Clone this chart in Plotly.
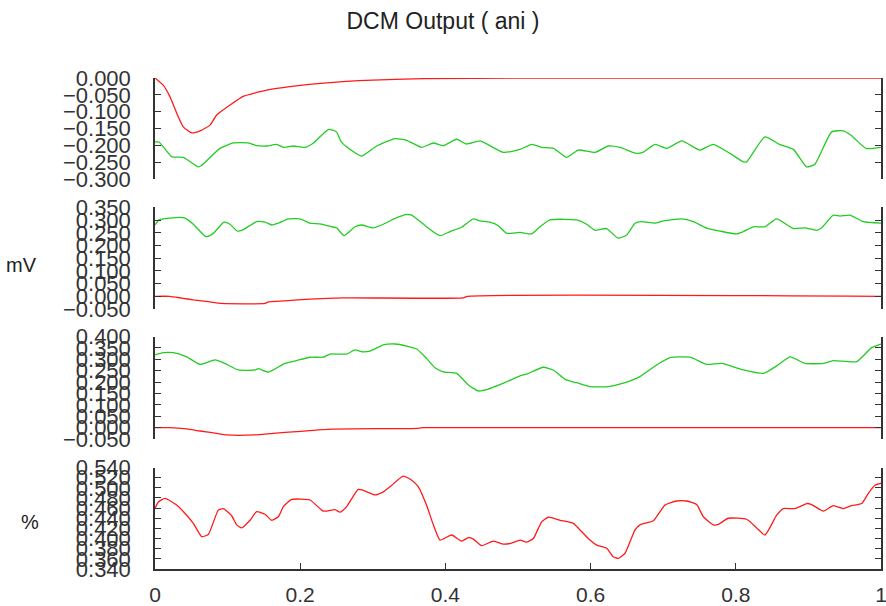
import plotly.graph_objects as go

# ---------------- data ----------------
# panel 1 (top)
p1_red_x = [0, 0.0115, 0.0207, 0.030, 0.039, 0.0505, 0.062, 0.0758, 0.085, 0.103, 0.122,
            0.14, 0.154, 0.2, 0.246, 0.29, 0.37, 0.5, 1.0]
p1_red_y = [0, -0.022, -0.056, -0.105, -0.145, -0.163, -0.157, -0.140, -0.110, -0.081, -0.054,
            -0.043, -0.036, -0.022, -0.013, -0.007, -0.002, 0, 0]

p1_grn_x = [0.0, 0.0055, 0.023, 0.039, 0.0597, 0.064, 0.0895, 0.108, 0.1286, 0.14, 0.154,
            0.1675, 0.177, 0.1905, 0.2066, 0.218, 0.2387, 0.25, 0.2566, 0.2686, 0.2846,
            0.3052, 0.3306, 0.3467, 0.3673, 0.3834, 0.397, 0.4156, 0.429, 0.4477, 0.48,
            0.5028, 0.519, 0.5326, 0.549, 0.567, 0.583, 0.606, 0.6244, 0.6405, 0.663,
            0.672, 0.6887, 0.705, 0.7255, 0.7507, 0.769, 0.792, 0.8104, 0.815, 0.84,
            0.861, 0.8793, 0.8976, 0.909, 0.932, 0.948, 0.9587, 0.9793, 1.0]
p1_grn_y = [-0.190, -0.190, -0.234, -0.236, -0.264, -0.260, -0.209, -0.193, -0.193, -0.201,
            -0.202, -0.197, -0.206, -0.202, -0.206, -0.194, -0.153, -0.160, -0.190, -0.212,
            -0.232, -0.202, -0.180, -0.185, -0.206, -0.193, -0.201, -0.182, -0.196, -0.187,
            -0.221, -0.212, -0.197, -0.206, -0.209, -0.236, -0.214, -0.221, -0.202, -0.206,
            -0.224, -0.221, -0.197, -0.209, -0.187, -0.214, -0.197, -0.224, -0.249, -0.249,
            -0.175, -0.198, -0.212, -0.264, -0.256, -0.160, -0.157, -0.170, -0.209, -0.206]

# panel 2
p2_red_x = [0, 0.02, 0.0367, 0.0528, 0.0758, 0.0918, 0.1515, 0.156, 0.179, 0.2135, 0.2594,
            0.4247, 0.43, 1.0]
p2_red_y = [0, 0, -0.007, -0.014, -0.022, -0.028, -0.028, -0.022, -0.018, -0.011, -0.006,
            -0.006, 0, 0]

p2_grn_x = [0.0, 0.0055, 0.0207, 0.0344, 0.0413, 0.0528, 0.0702, 0.0803, 0.095, 0.1033,
            0.1134, 0.1217, 0.14, 0.1515, 0.1607, 0.1699, 0.1837, 0.1997, 0.2135, 0.2273,
            0.2433, 0.2502, 0.2603, 0.2755, 0.2846, 0.3007, 0.3145, 0.3329, 0.3467, 0.3536,
            0.374, 0.3926, 0.4063, 0.4224, 0.4384, 0.4476, 0.4614, 0.4729, 0.4844, 0.5028,
            0.519, 0.5303, 0.544, 0.5808, 0.5946, 0.606, 0.622, 0.638, 0.6498, 0.6612,
            0.6704, 0.6887, 0.7002, 0.7255, 0.7415, 0.7599, 0.7782, 0.801, 0.8104, 0.8242,
            0.8402, 0.8563, 0.8793, 0.8953, 0.9114, 0.9183, 0.9343, 0.9435, 0.9573, 0.9756,
            1.0]
p2_grn_y = [0.281, 0.301, 0.308, 0.311, 0.308, 0.284, 0.235, 0.248, 0.292, 0.284,
            0.257, 0.263, 0.294, 0.292, 0.281, 0.288, 0.305, 0.305, 0.288, 0.285,
            0.274, 0.270, 0.239, 0.274, 0.281, 0.270, 0.284, 0.310, 0.323, 0.320,
            0.274, 0.239, 0.255, 0.272, 0.305, 0.297, 0.292, 0.278, 0.248, 0.252,
            0.246, 0.274, 0.301, 0.301, 0.284, 0.260, 0.267, 0.229, 0.242, 0.288,
            0.294, 0.288, 0.297, 0.305, 0.294, 0.269, 0.257, 0.246, 0.255, 0.274,
            0.274, 0.305, 0.267, 0.270, 0.260, 0.270, 0.320, 0.316, 0.320, 0.294,
            0.288]

# panel 3
p3_red_x = [0, 0.02, 0.0436, 0.062, 0.085, 0.0987, 0.1377, 0.163, 0.195, 0.2433, 0.3627,
            0.37, 1.0]
p3_red_y = [0, 0, -0.006, -0.015, -0.025, -0.032, -0.032, -0.025, -0.018, -0.007, -0.003,
            0, 0]

p3_grn_x = [0.0, 0.0115, 0.0253, 0.0436, 0.062, 0.0826, 0.0987, 0.1148, 0.1377, 0.1423,
            0.1561, 0.179, 0.195, 0.2135, 0.2318, 0.241, 0.264, 0.2755, 0.2846, 0.2961,
            0.3145, 0.3306, 0.3467, 0.3605, 0.374, 0.3857, 0.397, 0.4156, 0.4316, 0.4453,
            0.4568, 0.48, 0.5028, 0.512, 0.5349, 0.5486, 0.5647, 0.5808, 0.599, 0.6244,
            0.645, 0.668, 0.691, 0.7094, 0.737, 0.7599, 0.7805, 0.8104, 0.8379, 0.8563,
            0.8747, 0.8953, 0.9206, 0.9343, 0.9665, 0.9871, 1.0]
p3_grn_y = [0.319, 0.329, 0.329, 0.311, 0.278, 0.297, 0.278, 0.253, 0.253, 0.259,
            0.244, 0.282, 0.294, 0.309, 0.309, 0.323, 0.323, 0.341, 0.333, 0.336,
            0.363, 0.367, 0.358, 0.345, 0.304, 0.263, 0.245, 0.238, 0.187, 0.161,
            0.167, 0.195, 0.227, 0.235, 0.265, 0.253, 0.212, 0.197, 0.180, 0.180,
            0.195, 0.224, 0.275, 0.307, 0.309, 0.278, 0.282, 0.253, 0.238, 0.271,
            0.311, 0.282, 0.282, 0.294, 0.290, 0.351, 0.367]

# panel 4 (bottom)
p4_x = [0.0, 0.0046, 0.0138, 0.0298, 0.0436, 0.0528, 0.0643, 0.0734, 0.0872, 0.0941,
        0.1056, 0.1125, 0.1194, 0.1309, 0.14, 0.1515, 0.1607, 0.1699, 0.1768, 0.1883,
        0.2135, 0.2318, 0.2479, 0.2548, 0.264, 0.28, 0.287, 0.303, 0.3145, 0.3237,
        0.342, 0.3536, 0.3627, 0.374, 0.3834, 0.3926, 0.4086, 0.4224, 0.4316, 0.4385,
        0.45, 0.466, 0.48, 0.4912, 0.5028, 0.512, 0.5211, 0.5326, 0.5418, 0.5579,
        0.5762, 0.5854, 0.599, 0.6084, 0.6221, 0.6313, 0.6382, 0.6474, 0.6612, 0.668,
        0.6864, 0.7025, 0.7186, 0.7323, 0.7461, 0.7553, 0.769, 0.776, 0.7897, 0.815,
        0.8288, 0.8402, 0.8563, 0.8655, 0.8815, 0.8976, 0.9045, 0.9206, 0.9343, 0.948,
        0.9596, 0.9734, 0.9825, 0.9917, 1.0]
p4_y = [0.459, 0.472, 0.479, 0.466, 0.446, 0.430, 0.404, 0.408, 0.456, 0.459,
        0.445, 0.427, 0.421, 0.436, 0.453, 0.448, 0.436, 0.443, 0.463, 0.477,
        0.476, 0.454, 0.457, 0.452, 0.463, 0.497, 0.495, 0.486, 0.492, 0.502,
        0.523, 0.515, 0.502, 0.466, 0.427, 0.397, 0.407, 0.395, 0.402, 0.399,
        0.386, 0.395, 0.389, 0.391, 0.397, 0.393, 0.400, 0.433, 0.442, 0.436,
        0.430, 0.417, 0.397, 0.387, 0.381, 0.364, 0.361, 0.371, 0.417, 0.427,
        0.435, 0.466, 0.474, 0.474, 0.467, 0.443, 0.427, 0.428, 0.440, 0.438,
        0.421, 0.407, 0.446, 0.459, 0.459, 0.469, 0.467, 0.454, 0.465, 0.459,
        0.465, 0.469, 0.489, 0.505, 0.509]

# axis ranges and tick labels
p1_ticks = [-0.300, -0.250, -0.200, -0.150, -0.100, -0.050, 0.000]
p2_ticks = [-0.050, 0.000, 0.050, 0.100, 0.150, 0.200, 0.250, 0.300, 0.350]
p3_ticks = [-0.050, 0.000, 0.050, 0.100, 0.150, 0.200, 0.250, 0.300, 0.350, 0.400]
p4_ticks = [0.340, 0.360, 0.380, 0.400, 0.420, 0.440, 0.460, 0.480, 0.500, 0.520, 0.540]
x_ticks = [0, 0.2, 0.4, 0.6, 0.8, 1]
x_tick_text = ["0", "0.2", "0.4", "0.6", "0.8", "1"]

RED = "#ff1a1a"
GREEN = "#22cc22"
AXIS = "#333333"
FONT = "Liberation Sans, Arial, sans-serif"

fig = go.Figure()

def add(x, y, color, n):
    fig.add_trace(go.Scatter(x=x, y=y, mode="lines",
                             line=dict(color=color, width=1.3, shape="spline", smoothing=0.5),
                             xaxis="x" if n == 1 else f"x{n}",
                             yaxis="y" if n == 1 else f"y{n}",
                             showlegend=False, hoverinfo="skip"))

add(p1_red_x, p1_red_y, RED, 1)
add(p1_grn_x, p1_grn_y, GREEN, 1)
add(p2_red_x, p2_red_y, RED, 2)
add(p2_grn_x, p2_grn_y, GREEN, 2)
add(p3_red_x, p3_red_y, RED, 3)
add(p3_grn_x, p3_grn_y, GREEN, 3)
add(p4_x, p4_y, RED, 4)

domains = {1: [0.7943, 1.0], 2: [0.5295, 0.7363], 3: [0.2648, 0.4735], 4: [0.0, 0.2067]}
ranges = {1: [-0.3, 0.0], 2: [-0.05, 0.35], 3: [-0.05, 0.40], 4: [0.34, 0.54]}
ticks = {1: p1_ticks, 2: p2_ticks, 3: p3_ticks, 4: p4_ticks}

layout = dict(
    width=886, height=606,
    margin=dict(l=155, r=5, t=78, b=37, autoexpand=False),
    paper_bgcolor="white", plot_bgcolor="white",
    font=dict(family=FONT, color="#222222", size=21),
    title=dict(text="DCM Output ( ani )", x=0.5, xanchor="center", y=0.966, yanchor="middle",
               font=dict(size=23, family=FONT, color="#222222")),
)

for n in range(1, 5):
    xa = "xaxis" if n == 1 else f"xaxis{n}"
    ya = "yaxis" if n == 1 else f"yaxis{n}"
    xname = "x" if n == 1 else f"x{n}"
    yname = "y" if n == 1 else f"y{n}"
    bottom = n == 4
    layout[xa] = dict(
        domain=[0, 1], range=[0, 1], anchor=yname, automargin=False,
        showgrid=False, zeroline=False,
        showline=bottom, linecolor=AXIS, linewidth=1.5,
        ticks="inside" if bottom else "", ticklen=6, tickwidth=1, tickcolor=AXIS,
        tickmode="array", tickvals=x_ticks, ticktext=x_tick_text,
        showticklabels=bottom, ticklabelstandoff=6, ticklabeloverflow="allow",
        tickfont=dict(size=21, family=FONT, color="#333333"),
    )
    layout[ya] = dict(
        domain=domains[n], range=ranges[n], anchor=xname, automargin=False,
        showgrid=False, zeroline=False,
        showline=True, mirror="ticks", linecolor=AXIS, linewidth=1.5,
        ticks="inside", ticklen=6, tickwidth=1, tickcolor=AXIS,
        tickmode="array", tickvals=ticks[n], tickformat=".3f",
        ticklabelstandoff=18, ticklabeloverflow="allow",
        tickfont=dict(size=22, family=FONT, color="#333333"),
    )

fig.update_layout(**layout)

# unit labels beside the panels
fig.add_annotation(text="mV", xref="paper", yref="paper", x=-0.184, y=0.619,
                   xanchor="center", yanchor="middle", showarrow=False,
                   font=dict(size=20, family=FONT, color="#222222"))
fig.add_annotation(text="%", xref="paper", yref="paper", x=-0.172, y=0.096,
                   xanchor="center", yanchor="middle", showarrow=False,
                   font=dict(size=20, family=FONT, color="#222222"))

fig.write_html("out.html")
